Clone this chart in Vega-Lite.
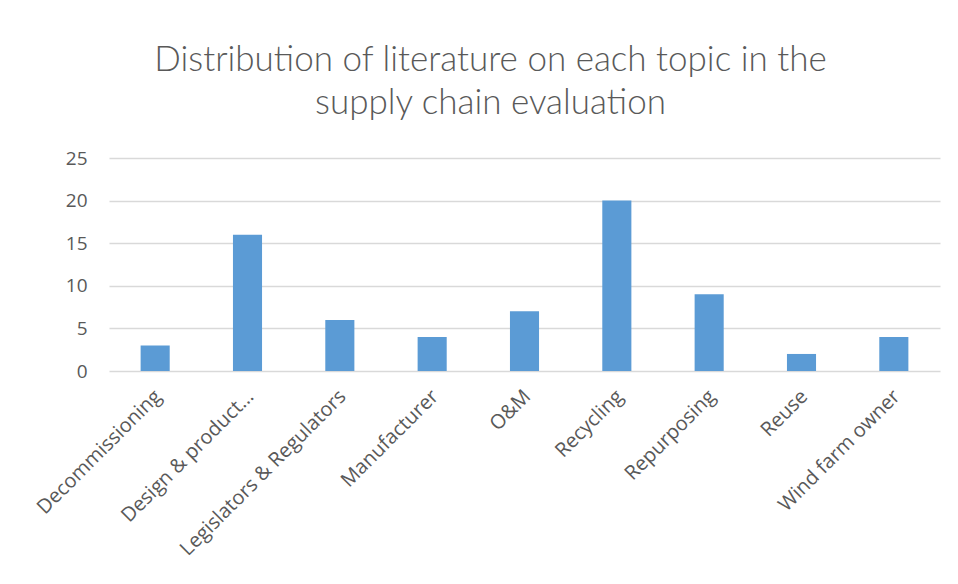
{
  "$schema": "https://vega.github.io/schema/vega-lite/v6.json",
  "autosize": "none",
  "width": 831,
  "height": 213,
  "padding": {"left": 109, "top": 158, "right": 18, "bottom": 213},
  "background": "white",
  "title": {
    "text": ["Distribution of literature on each topic in the", "supply chain evaluation"],
    "font": "Lato",
    "fontWeight": 300,
    "fontSize": 35,
    "color": "#595959",
    "lineHeight": 43,
    "anchor": "middle",
    "dx": -34,
    "offset": 28
  },
  "data": {
    "values": [
      {"topic": "Decommissioning", "count": 3},
      {"topic": "Design & product…", "count": 16},
      {"topic": "Legislators & Regulators", "count": 6},
      {"topic": "Manufacturer", "count": 4},
      {"topic": "O&M", "count": 7},
      {"topic": "Recycling", "count": 20},
      {"topic": "Repurposing", "count": 9},
      {"topic": "Reuse", "count": 2},
      {"topic": "Wind farm owner", "count": 4}
    ]
  },
  "mark": {"type": "bar", "color": "#5b9bd5"},
  "encoding": {
    "x": {
      "field": "topic",
      "type": "nominal",
      "sort": null,
      "scale": {"paddingInner": 0.685, "paddingOuter": 0.3425},
      "axis": {
        "title": null,
        "labelAngle": -45,
        "labelAlign": "right",
        "labelBaseline": "middle",
        "labelFont": "Open Sans",
        "labelFontSize": 20,
        "labelColor": "#595959",
        "labelPadding": 22,
        "labelOffset": 3,
        "ticks": false,
        "domain": false,
        "labelLimit": 300
      }
    },
    "y": {
      "field": "count",
      "type": "quantitative",
      "scale": {"domain": [0, 25]},
      "axis": {
        "title": null,
        "values": [0, 5, 10, 15, 20, 25],
        "labelFont": "Open Sans",
        "labelFontSize": 19,
        "labelColor": "#595959",
        "labelPadding": 22,
        "ticks": false,
        "domain": false,
        "gridColor": "#d9d9d9",
        "gridWidth": 1.5
      }
    }
  },
  "config": {"view": {"stroke": null}}
}
